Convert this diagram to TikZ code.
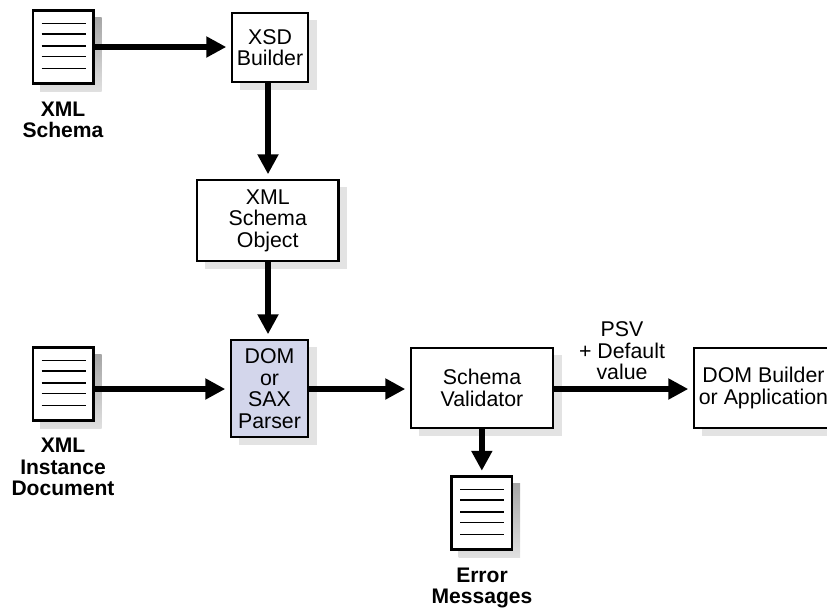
\documentclass[tikz,border=0pt]{standalone}
\usepackage{fontspec}
\setmainfont{Liberation Sans}
\usetikzlibrary{arrows.meta}
\definecolor{parserblue}{HTML}{D3D6EB}
\tikzset{
  x=0.75pt,y=-0.75pt,
  txt/.style={font=\fontsize{16pt}{16.1pt}\selectfont,align=center,inner sep=0pt},
  boldtxt/.style={font=\fontsize{15.8pt}{16.1pt}\selectfont\bfseries,align=center,inner sep=0pt},
  boxnode/.style={draw=black,line width=2.2pt,rectangle,inner sep=0pt,outer sep=0pt,txt},
  docnode/.style={draw=black,line width=1.9pt,fill=white,rectangle,inner sep=0pt,outer sep=0pt,anchor=north west,minimum width=45.5pt,minimum height=54.75pt},
  conn/.style={line width=4.2pt,-{Triangle[length=15pt,width=15pt]},shorten >=4.3pt},
  softshadow/.style={fill=black!11,draw=none},
  docline/.style={line width=0.85pt,black},
}
\newcommand{\boxat}[7][white]{%
  \fill[softshadow] (#3+8,#4+7) rectangle (#5+8.8,#6+8);
  \node[boxnode,fill=#1,anchor=north west,minimum width={(#5-#3)*0.75pt},minimum height={(#6-#4)*0.75pt}] (#2) at (#3,#4) {#7};
}
\newcommand{\docat}[3]{%
  \shade[top color=black!35,bottom color=black!12] (#2+7,#3+7) rectangle (#2+68.5,#3+81);
  \node[docnode] (#1) at (#2,#3) {};
  \foreach \dy in {13,23.5,35.5,46.2,58}
    \draw[docline] (#2+8.7,#3+\dy) -- (#2+52.7,#3+\dy);
}
\begin{document}
\begin{tikzpicture}
\useasboundingbox (0,0) rectangle (827,607);
\clip (0,0) rectangle (827,607);
\docat{d1}{33}{10.5}
\docat{d2}{33}{347.5}
\docat{d3}{451.5}{476.5}
\boxat{xsd}{232}{13}{308}{82}{XSD\\Builder}
\boxat{xso}{197}{180}{338.5}{261}{XML\\Schema\\Object}
\boxat[parserblue]{dom}{231}{340}{308}{437}{DOM\\or\\SAX\\Parser}
\boxat{val}{411}{348}{553}{428}{Schema\\Validator}
\boxat{app}{694}{348}{833}{428}{DOM Builder\\or Application}
\node[boldtxt] (l1) at (63,120) {XML\\Schema};
\node[boldtxt] (l2) at (63,467) {XML\\Instance\\Document};
\node[boldtxt] (l3) at (482,588) {Error\\Messages};
\node[txt] (l4) at (622,351) {PSV\\+ Default\\value};
\coordinate (vx) at (268,0);
\coordinate (hy) at (0,389);
\draw[conn] (d1.east) -- (xsd.west |- d1.east);
\draw[conn] (vx |- xsd.south) -- (vx |- xso.north);
\draw[conn] (vx |- xso.south) -- (vx |- dom.north);
\draw[conn] (d2.east |- hy) -- (dom.west |- hy);
\draw[conn] (dom.east |- hy) -- (val.west |- hy);
\draw[conn] (val.east |- hy) -- (app.west |- hy);
\draw[conn] (d3.north |- val.south) -- (d3.north);
\end{tikzpicture}
\end{document}
